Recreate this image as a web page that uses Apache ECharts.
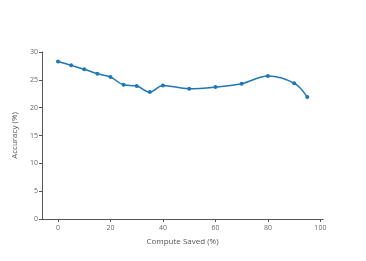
<!DOCTYPE html>
<html><head><meta charset="utf-8">
<script src="https://cdn.jsdelivr.net/npm/echarts@6/dist/echarts.min.js"></script>
<style>html,body{margin:0;padding:0;background:#fff}#c{width:366px;height:261px}</style>
</head><body><div id="c"></div>
<script>
const computeSaved = [0,5,10,15,20,25,30,35,40,50,60,70,80,90,95];
const accuracy = [28.3,27.6,26.9,26.1,25.5,24.1,23.9,22.8,24.0,23.4,23.7,24.3,25.7,24.4,21.9];
const xTicks = [0,20,40,60,80,100];
const yTicks = [0,5,10,15,20,25,30];
const chart = echarts.init(document.getElementById('c'), null, {renderer:'canvas'});
const font = '"Open Sans", sans-serif';
chart.setOption({
  animation:false,
  grid:{left:42,right:43,top:52,bottom:42,containLabel:false},
  xAxis:{type:'value',min:-6.1,max:101,
    name:'Compute Saved (%)',nameLocation:'middle',nameGap:19,
    nameTextStyle:{fontFamily:font,fontSize:8,color:'#555'},
    axisLine:{onZero:false,lineStyle:{color:'#555',width:1}},
    axisTick:{show:true,length:3,customValues:xTicks,lineStyle:{color:'#555'}},
    axisLabel:{customValues:xTicks,fontFamily:font,fontSize:7,color:'#666',margin:5},
    splitLine:{show:false}},
  yAxis:{type:'value',min:0,max:30,interval:5,
    name:'Accuracy (%)',nameLocation:'middle',nameGap:20,nameRotate:90,
    nameTextStyle:{fontFamily:font,fontSize:8,color:'#555'},
    axisLine:{show:true,onZero:false,lineStyle:{color:'#555',width:1}},
    axisTick:{show:true,length:3,customValues:yTicks,lineStyle:{color:'#555'}},
    axisLabel:{customValues:yTicks,fontFamily:font,fontSize:7,color:'#666',margin:4},
    splitLine:{show:false}},
  series:[{type:'line',data:computeSaved.map((x,i)=>[x,accuracy[i]]),
    smooth:0.35,symbol:'circle',symbolSize:4,
    lineStyle:{color:'#1f77b4',width:1.5},itemStyle:{color:'#1f77b4'}}]
});
</script></body></html>
